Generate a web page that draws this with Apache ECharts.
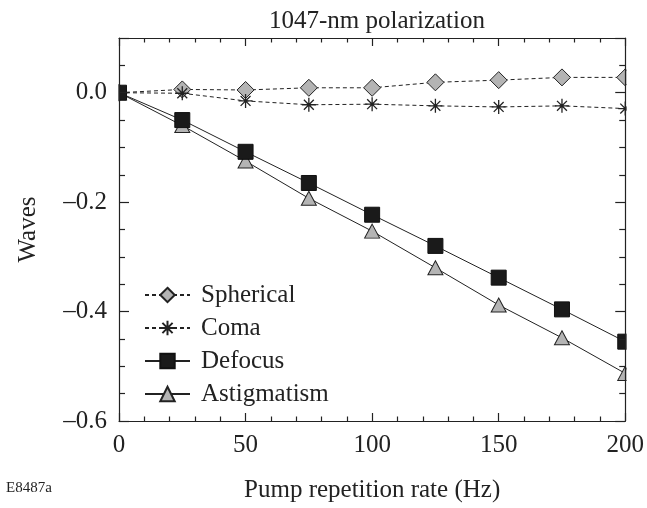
<!DOCTYPE html>
<html>
<head>
<meta charset="utf-8">
<script src="https://cdn.jsdelivr.net/npm/echarts@6/dist/echarts.min.js"></script>
<style>
html,body{margin:0;padding:0;background:#fff;}
#chart{width:647px;height:508px;}
</style>
</head>
<body>
<div id="chart"></div>
<script>
var rates = [0, 25, 50, 75, 100, 125, 150, 175, 200];
var spherical = [0.000, 0.006, 0.005, 0.009, 0.009, 0.019, 0.023, 0.028, 0.028];
var coma = [0.000, -0.001, -0.015, -0.022, -0.021, -0.024, -0.026, -0.024, -0.029];
var defocus = [0.000, -0.050, -0.108, -0.165, -0.223, -0.280, -0.338, -0.396, -0.455];
var astigmatism = [0.000, -0.060, -0.125, -0.193, -0.253, -0.320, -0.388, -0.448, -0.513];
var seriesNames = ['Spherical', 'Coma', 'Defocus', 'Astigmatism'];
var xTicks = [0, 50, 100, 150, 200];
var yTicks = [0.0, -0.2, -0.4, -0.6];

function pairs(vals) { return rates.map(function (r, i) { return [r, vals[i]]; }); }

var FONT = '"Liberation Serif", "Times New Roman", serif';
var FS = 25;
var GRAY = '#b4b4b4';
var star = 'path://M0,-10L0,10M-10,0L10,0M-7.07,-7.07L7.07,7.07M-7.07,7.07L7.07,-7.07';

var chart = echarts.init(document.getElementById('chart'), null, {renderer: 'canvas'});

function xAx(pos, labels) {
  return {
    type: 'value', position: pos, min: 0, max: 200, interval: 50, z: 10,
    axisLine: {show: true, onZero: false, lineStyle: {color: '#222', width: 1.2}},
    axisTick: {show: true, inside: true, length: 8, lineStyle: {color: '#222', width: 1.2}},
    minorTick: {show: true, splitNumber: 5, length: 4.5, lineStyle: {color: '#222', width: 1.2}},
    splitLine: {show: false},
    axisLabel: labels ? {show: true, margin: 12, fontSize: FS, fontFamily: FONT, color: '#222',
      formatter: function (v) { return xTicks.indexOf(v) >= 0 ? String(v) : ''; }} : {show: false},
    name: labels ? 'Pump repetition rate (Hz)' : '',
    nameLocation: 'middle', nameGap: 57,
    nameTextStyle: {fontSize: FS, fontFamily: FONT, color: '#222'}
  };
}
function yAx(pos, labels) {
  return {
    type: 'value', position: pos, min: -0.6, max: 0.1, interval: 0.2, z: 10,
    axisLine: {show: true, onZero: false, lineStyle: {color: '#222', width: 1.2}},
    axisTick: {show: true, inside: true, length: 10, lineStyle: {color: '#222', width: 1.2}},
    minorTick: {show: true, splitNumber: 4, length: 6, lineStyle: {color: '#222', width: 1.2}},
    splitLine: {show: false},
    axisLabel: labels ? {show: true, margin: 12, fontSize: FS, fontFamily: FONT, color: '#222',
      formatter: function (v) {
        var r = Math.round(v * 10) / 10;
        for (var i = 0; i < yTicks.length; i++) {
          if (Math.abs(yTicks[i] - v) < 1e-9) return r.toFixed(1).replace('-', '\u2013');
        }
        return '';
      }} : {show: false},
    name: labels ? 'Waves' : '',
    nameLocation: 'middle', nameGap: 78,
    nameTextStyle: {fontSize: FS, fontFamily: FONT, color: '#222'}
  };
}

var option = {
  backgroundColor: '#fff',
  animation: false,
  title: {
    text: '1047-nm polarization', left: 372, top: 4, textAlign: 'center',
    textStyle: {fontSize: FS, fontFamily: FONT, fontWeight: 'normal', color: '#222'}
  },
  grid: {left: 119, right: 21, top: 38, bottom: 86},
  xAxis: [xAx('bottom', true), xAx('top', false)],
  yAxis: [yAx('left', true), yAx('right', false)],
  legend: {
    orient: 'vertical', left: 139, top: 277, itemWidth: 45, itemHeight: 18, itemGap: 7,
    textStyle: {fontSize: FS, fontFamily: FONT, color: '#222', lineHeight: 26, padding: [0, 0, 0, 6]},
    data: seriesNames
  },
  graphic: [
    {type: 'rect', z: 5, shape: {x: 0, y: 30, width: 118.4, height: 400}, style: {fill: '#fff'}, silent: true},
    {type: 'rect', z: 5, shape: {x: 626.6, y: 30, width: 30, height: 400}, style: {fill: '#fff'}, silent: true},
    {type: 'text', left: 6, top: 481, z: 6, style: {text: 'E8487a', fontSize: 15, fontFamily: FONT, fill: '#222'}}
  ],
  series: [
    {name: seriesNames[0], type: 'line', data: pairs(spherical), symbol: 'diamond', symbolSize: [17, 17],
      lineStyle: {color: '#222', width: 1, type: [4, 3]},
      itemStyle: {color: GRAY, borderColor: '#222', borderWidth: 1}, z: 2},
    {name: seriesNames[1], type: 'line', data: pairs(coma), symbol: star, symbolSize: 14,
      lineStyle: {color: '#222', width: 1, type: [4, 3]},
      itemStyle: {color: '#222', borderColor: '#222', borderWidth: 1.3}, z: 2},
    {name: seriesNames[2], type: 'line', data: pairs(defocus), symbol: 'rect', symbolSize: 15,
      lineStyle: {color: '#222', width: 1},
      itemStyle: {color: '#1a1a1a', borderColor: '#111', borderWidth: 1}, z: 3},
    {name: seriesNames[3], type: 'line', data: pairs(astigmatism), symbol: 'triangle', symbolSize: [15, 14],
      lineStyle: {color: '#222', width: 1},
      itemStyle: {color: GRAY, borderColor: '#222', borderWidth: 1}, z: 2}
  ]
};
chart.setOption(option);
</script>
</body>
</html>
